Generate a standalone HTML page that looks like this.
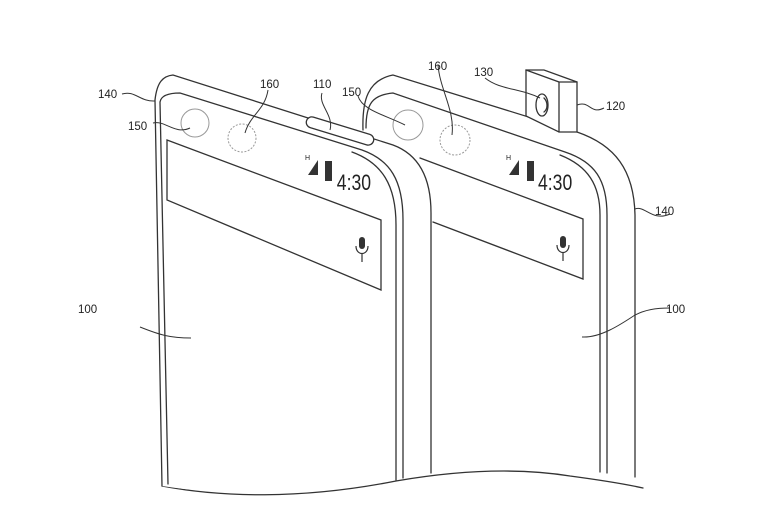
<!DOCTYPE html>
<html><head><meta charset="utf-8"><style>
html,body{margin:0;padding:0;background:#fff;width:780px;height:522px;overflow:hidden}
svg{display:block}
text{font-family:"Liberation Sans",sans-serif;fill:#222}
</style></head><body>
<svg width="780" height="522" viewBox="0 0 780 522" xmlns="http://www.w3.org/2000/svg">
<g fill="none" stroke="#333" stroke-width="1.3" stroke-linecap="round">
<!-- bottom wave -->
<path d="M162,486 C220,497 300,500 396,481 C460,470 520,468 570,476 C600,480 625,484 643,488"/>
<!-- RIGHT PHONE (behind) -->
<path d="M363,130 C362,100 368,80 393,75 L577,132 C615,145 634,170 635,215 L635,477"/>
<path d="M366,128 C366,104 372,95 393,93 L565,152 C595,162 607,180 607,215 L607,473"/>
<path d="M560,155 C588,166 600,185 600,215 L600,472"/>
<!-- right bar -->
<path d="M420,158 L583,219 L583,279 L433,222"/>
<!-- camera module -->
<path d="M526,70 L544,70 L577,82 L577,132 L559,132 L526,116 Z" fill="#fff"/>
<path d="M526,70 L559,82 L559,132 M559,82 L577,82"/>
<ellipse cx="542" cy="105" rx="6" ry="11"/>
<path d="M544,98 C548,102 548,109 544,112"/>
<!-- LEFT PHONE (front), white fill to hide right phone -->
<path d="M155,100 C157,82 163,76 173,75 L393,145 C420,155 431,180 431,213 L431,473 L396,480 C330,493 230,497 162,486 Z" fill="#fff" stroke="none"/>
<path d="M162,486 L155,100 C157,82 163,76 173,75 L393,145 C420,155 431,180 431,213 L431,473"/>
<path d="M168,484 L160,102 C161,96 168,93 180,93 L362,150 C390,160 403,180 403,220 L403,478"/>
<path d="M352,152 C382,163 396,185 396,225 L396,480"/>
<!-- notch -->
<rect x="305" y="125.5" width="70" height="11" rx="5.5" transform="rotate(17 340 131)" fill="#fff"/>
<!-- left bar -->
<path d="M167,140 L381,220 L381,290 L167,200 Z"/>
</g>
<!-- circles -->
<g fill="none" stroke="#999" stroke-width="1">
<circle cx="195" cy="123" r="14"/>
<circle cx="242" cy="138" r="14" stroke-dasharray="2,1.5"/>
<circle cx="408" cy="125" r="15"/>
<circle cx="455" cy="140" r="15" stroke-dasharray="2,1.5"/>
</g>
<!-- status icons & mic -->
<g fill="#333">
<polygon points="308,175 318,160 318,175"/><rect x="325" y="161" width="7" height="20"/>
<polygon points="509,175 519,160 519,175"/><rect x="527" y="161" width="7" height="20"/>
<rect x="359" y="237" width="6" height="12" rx="3"/><rect x="560" y="236" width="6" height="12" rx="3"/>
</g>
<g fill="none" stroke="#333" stroke-width="1.2">
<path d="M356,246 C356,256 368,256 368,246 M362,253 L362,262"/>
<path d="M557,245 C557,255 569,255 569,245 M563,252 L563,261"/>
</g>
<text x="305" y="160" font-size="7">H</text><text x="506" y="160" font-size="7">H</text>
<text x="337" y="190" font-size="22" transform="scale(0.8 1) translate(84 0)">4:30</text>
<text x="538" y="190" font-size="22" transform="scale(0.8 1) translate(134.5 0)">4:30</text>
<!-- leaders -->
<g fill="none" stroke="#333" stroke-width="1">
<path d="M122,94 C135,90 140,102 155,101"/>
<path d="M153,123 C165,120 175,135 190,128"/>
<path d="M268,90 C265,110 250,115 245,133"/>
<path d="M322,93 C318,105 334,115 330,130"/>
<path d="M358,96 C362,110 385,115 405,125"/>
<path d="M438,65 C440,90 455,110 452,135"/>
<path d="M485,78 C500,90 520,88 540,98"/>
<path d="M577,105 C590,100 590,115 604,108"/>
<path d="M635,209 C645,205 652,222 670,214"/>
<path d="M140,327 C160,335 170,338 191,338"/>
<path d="M582,337 C600,338 620,325 635,315 C645,310 655,308 670,308"/>
</g>
<g font-size="11.5">
<text x="98" y="98">140</text><text x="128" y="130">150</text>
<text x="260" y="88">160</text><text x="313" y="88">110</text>
<text x="342" y="96">150</text><text x="428" y="70">160</text>
<text x="474" y="76">130</text><text x="606" y="110">120</text>
<text x="655" y="215">140</text><text x="78" y="313">100</text>
<text x="666" y="313">100</text>
</g>
</svg>
</body></html>
